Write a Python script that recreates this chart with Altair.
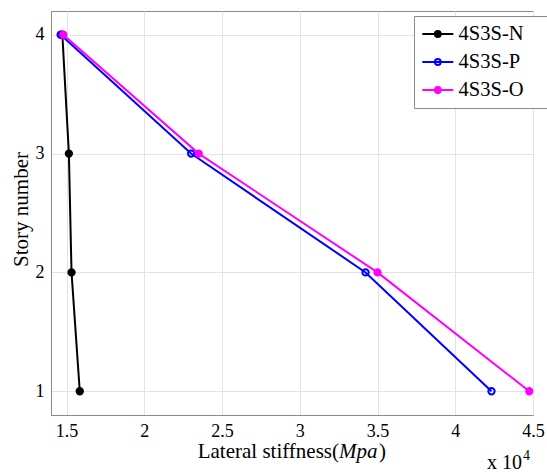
import altair as alt
import pandas as pd

stories = [1, 2, 3, 4]
series_names = ["4S3S-N", "4S3S-P", "4S3S-O"]
stiff_N = [1.585, 1.532, 1.515, 1.473]
stiff_P = [4.233, 3.423, 2.301, 1.462]
stiff_O = [4.476, 3.500, 2.350, 1.479]
x_ticks = [1.5, 2, 2.5, 3, 3.5, 4, 4.5]
y_ticks = [1, 2, 3, 4]

rows = []
for name, vals in zip(series_names, [stiff_N, stiff_P, stiff_O]):
    for s, v in zip(stories, vals):
        rows.append({"series": name, "story": s, "stiffness": v})
df = pd.DataFrame(rows)

FONT = "'Liberation Serif', 'Times New Roman', Times, serif"
stroke_range = ["#000000", "#0000ff", "#ff00ff"]
fill_range = ["#000000", "transparent", "#ff00ff"]
sym_path = "M-1,0H2.2M0.9,0A0.3,0.3 0 1 1 0.3,0A0.3,0.3 0 1 1 0.9,0Z"

legend = alt.Legend(
    title=None, orient="none", legendX=363, legendY=5,
    symbolType=sym_path, symbolSize=376, symbolStrokeWidth=2,
    labelFont=FONT, labelFontSize=20.5, labelColor="#000000",
    labelOffset=15.6, rowPadding=6, padding=7,
    fillColor="#ffffff", strokeColor="#8a8a8a",
    labelExpr="datum.label + '\u00a0\u00a0\u00a0\u00a0\u200b'",
)

x_enc = alt.X("stiffness:Q", scale=alt.Scale(domain=[1.4, 4.5], nice=False, zero=False),
              axis=alt.Axis(values=x_ticks, format=".1~f", title=None, grid=True,
                            gridColor="#e3e3e3", labelFont=FONT, labelFontSize=18,
                            labelColor="#000000", labelPadding=7, ticks=False,
                            domainColor="#8a8a8a", labelFlush=False))
y_enc = alt.Y("story:Q", scale=alt.Scale(domain=[0.8, 4.2], nice=False, zero=False),
              axis=alt.Axis(values=y_ticks, format="d", title="Story number", grid=True,
                            gridColor="#e3e3e3", labelFont=FONT, labelFontSize=18,
                            labelColor="#000000", labelPadding=7, ticks=False,
                            domainColor="#8a8a8a", titleFont=FONT, titleFontSize=21,
                            titleFontWeight="normal", titleColor="#000000",
                            titleX=-24, titleY=198, titleBaseline="alphabetic",
                            titleAngle=-90))

stroke_enc = alt.Stroke("series:N", scale=alt.Scale(domain=series_names, range=stroke_range),
                        legend=legend)
fill_enc = alt.Fill("series:N", scale=alt.Scale(domain=series_names, range=fill_range),
                    legend=legend)

lines = alt.Chart(df).mark_line(strokeWidth=2).encode(
    x=x_enc, y=y_enc, stroke=stroke_enc, order="story:Q"
)
points = alt.Chart(df).mark_point(size=40, strokeWidth=2, opacity=1, filled=False, shape="circle").encode(
    x=x_enc, y=y_enc, stroke=stroke_enc, fill=fill_enc
)

tdf = pd.DataFrame({"a": [0]})
txt = dict(font=FONT, fontSize=21, color="#000000", baseline="alphabetic")
t1 = alt.Chart(tdf).mark_text(text="Lateral stiffness(", align="right", **txt).encode(
    x=alt.value(288), y=alt.value(447))
t2 = alt.Chart(tdf).mark_text(text="Mpa", align="left", fontStyle="italic", **txt).encode(
    x=alt.value(288), y=alt.value(447))
t3 = alt.Chart(tdf).mark_text(text=")", align="left", **txt).encode(
    x=alt.value(328), y=alt.value(447))
t4 = alt.Chart(tdf).mark_text(text="x 10", align="left", font=FONT, fontSize=20,
                              color="#000000", baseline="alphabetic").encode(
    x=alt.value(436), y=alt.value(458))
t5 = alt.Chart(tdf).mark_text(text="4", align="left", font=FONT, fontSize=14,
                              color="#000000", baseline="alphabetic").encode(
    x=alt.value(472), y=alt.value(449))

chart = alt.layer(lines, points, t1, t2, t3, t4, t5).properties(
    width=482, height=404,
    autosize=alt.AutoSizeParams(type="none"),
    padding={"left": 51, "top": 11, "right": 14, "bottom": 57},
    background="#ffffff",
).configure_view(stroke="#8a8a8a", strokeWidth=1)

chart.save("out.html", embed_options={"renderer": "svg", "actions": False})
